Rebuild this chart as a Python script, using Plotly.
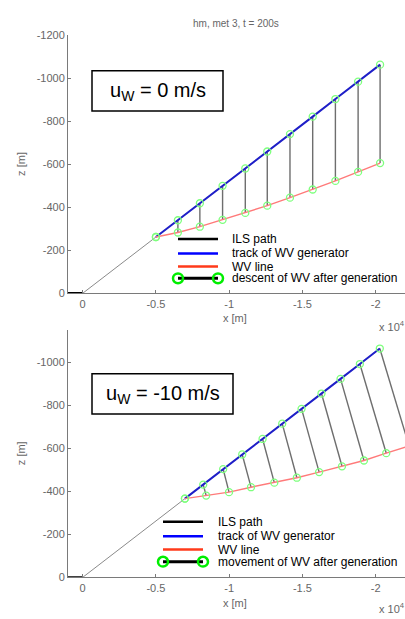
import plotly.graph_objects as go

W, H = 405, 619
FONT = "Liberation Sans, Arial, sans-serif"

# ILS glide path: short ground segment, then the 3 deg slope
ils_x = [1000, 0, -20300]
ils_z = [0, 0, -1064]

# u_W = 0 m/s : generator positions every 20 s and the vortex positions at t = 200 s
top_gen_x = [-5000, -6500, -8000, -9550, -11100, -12600, -14150, -15700, -17250, -18800, -20300]
top_gen_z = [-262, -340, -419, -500, -581, -660, -741, -822, -904, -985, -1064]
top_wv_x = [-5000, -6500, -8000, -9550, -11100, -12600, -14150, -15700, -17250, -18800, -20300]
top_wv_z = [-262, -283, -310, -342, -374, -408, -445, -483, -523, -565, -606]

# u_W = -10 m/s : head wind, vortices drift while descending
bot_gen_x = [-6980, -8230, -9590, -10890, -12280, -13620, -14940, -16300, -17600, -18920, -20280]
bot_gen_z = [-366, -431, -503, -571, -643, -714, -783, -854, -922, -991, -1063]
bot_wv_x = [-6980, -8430, -9990, -11490, -13080, -14620, -16140, -17700, -19200, -20720, -22280]
bot_wv_z = [-366, -380, -396, -419, -440, -463, -489, -516, -543, -577, -610]

x_ticks = [0, -5000, -10000, -15000, -20000]
x_ticktext = ["0", "-0.5", "-1", "-1.5", "-2"]
top_z_ticks = [0, -200, -400, -600, -800, -1000, -1200]
bot_z_ticks = [0, -200, -400, -600, -800, -1000]

legend_top = ["ILS path", "track of WV generator", "WV line", "descent of WV after generation"]
legend_bot = ["ILS path", "track of WV generator", "WV line", "movement of WV after generation"]


def px(x):
    return x / W


def py(y):
    return 1 - y / H


fig = go.Figure()


def add_panel(xa, ya, gx, gz, wx, wz):
    # ILS slope (thin) and ground segment
    fig.add_trace(go.Scatter(x=ils_x[1:], y=ils_z[1:], mode="lines",
                             line=dict(color="#8a8a8a", width=1), xaxis=xa, yaxis=ya))
    fig.add_trace(go.Scatter(x=ils_x[:2], y=ils_z[:2], mode="lines",
                             line=dict(color="black", width=2.5), xaxis=xa, yaxis=ya))
    # connectors: each generation point to its vortex
    cx, cz = [], []
    for a, b, c, d in zip(gx, gz, wx, wz):
        cx += [a, c, None]
        cz += [b, d, None]
    fig.add_trace(go.Scatter(x=cx, y=cz, mode="lines",
                             line=dict(color="#6e6e6e", width=1.4), xaxis=xa, yaxis=ya))
    fig.add_trace(go.Scatter(x=gx, y=gz, mode="lines",
                             line=dict(color="#1f1fc8", width=2), xaxis=xa, yaxis=ya))
    fig.add_trace(go.Scatter(x=wx, y=wz, mode="lines",
                             line=dict(color="#ff7a7a", width=1.4), xaxis=xa, yaxis=ya))
    fig.add_trace(go.Scatter(x=gx + wx, y=gz + wz, mode="markers",
                             marker=dict(symbol="circle-open", size=7, color="#7dff7d",
                                         line=dict(width=1.3)),
                             xaxis=xa, yaxis=ya))


add_panel("x", "y", top_gen_x, top_gen_z, top_wv_x, top_wv_z)
add_panel("x2", "y2", bot_gen_x, bot_gen_z, bot_wv_x, bot_wv_z)

shapes = []
annotations = []


def legend(rows_y, x0, x1, xt, labels):
    colors = ["black", "#0000ff", "#ff3a1a"]
    for y, c, t in zip(rows_y[:3], colors, labels[:3]):
        shapes.append(dict(type="line", xref="paper", yref="paper", x0=px(x0), x1=px(x1),
                           y0=py(y), y1=py(y), line=dict(color=c, width=2.5)))
    y = rows_y[3]
    shapes.append(dict(type="line", xref="paper", yref="paper", x0=px(x0), x1=px(x1),
                       y0=py(y), y1=py(y), line=dict(color="black", width=3)))
    r = 5
    for xc in (x0, x1):
        shapes.append(dict(type="circle", xref="paper", yref="paper",
                           x0=px(xc - r), x1=px(xc + r), y0=py(y + r), y1=py(y - r),
                           line=dict(color="#00ee00", width=2.5)))
    for y, t in zip(rows_y, labels):
        annotations.append(dict(text=t, xref="paper", yref="paper", x=px(xt), y=py(y),
                                xanchor="left", yanchor="middle", showarrow=False,
                                font=dict(family=FONT, size=12, color="black")))


legend([237.5, 252.3, 265.7, 277.7], 178, 218, 230, legend_top)
legend([526, 540.7, 554.3, 566.7], 163, 203, 216, legend_bot)


def wind_box(x0, x1, y0, y1, label):
    shapes.append(dict(type="rect", xref="paper", yref="paper", x0=px(x0), x1=px(x1),
                       y0=py(y1), y1=py(y0), line=dict(color="black", width=1.5),
                       fillcolor="white"))
    annotations.append(dict(text=label, xref="paper", yref="paper",
                            x=px((x0 + x1) / 2), y=py((y0 + y1) / 2 + 1),
                            xanchor="center", yanchor="middle", showarrow=False,
                            font=dict(family=FONT, size=20, color="black")))


wind_box(92, 223, 66, 107, "u<sub>W</sub> = 0 m/s")
wind_box(92, 233, 375, 416, "u<sub>W</sub> = -10 m/s")

gray = "#666666"
for ylab, zlab, pw in [(318, 161, 326), (609, 456, 614)]:
    annotations.append(dict(text="x [m]", xref="paper", yref="paper", x=px(235), y=py(ylab),
                            xanchor="center", yanchor="middle", showarrow=False,
                            font=dict(family=FONT, size=11, color=gray)))
    annotations.append(dict(text="z [m]", xref="paper", yref="paper", x=px(21), y=py(zlab),
                            xanchor="center", yanchor="middle", showarrow=False, textangle=-90,
                            font=dict(family=FONT, size=11, color=gray)))
    annotations.append(dict(text="x 10<sup>4</sup>", xref="paper", yref="paper", x=px(377),
                            y=py(pw), xanchor="left", yanchor="middle", showarrow=False,
                            font=dict(family=FONT, size=11, color=gray)))

annotations.append(dict(text="hm, met 3, t = 200s", xref="paper", yref="paper",
                        x=px(236), y=py(18), xanchor="center", yanchor="middle",
                        showarrow=False, font=dict(family=FONT, size=10, color=gray)))

axis_common = dict(showline=True, linecolor="#7a7a7a", linewidth=1, ticks="inside",
                   ticklen=3, tickcolor="#7a7a7a", showgrid=False, zeroline=False,
                   tickfont=dict(family=FONT, size=11, color=gray))

fig.update_layout(
    width=W, height=H,
    margin=dict(l=0, r=0, t=0, b=0),
    paper_bgcolor="white", plot_bgcolor="white",
    showlegend=False,
    shapes=shapes, annotations=annotations,
    xaxis=dict(domain=[px(68), 1], range=[1000, -22000], anchor="y",
               tickvals=x_ticks, ticktext=x_ticktext, **axis_common),
    yaxis=dict(domain=[py(293), py(30)], range=[0, -1200], anchor="x",
               tickvals=top_z_ticks, ticktext=[str(v) for v in top_z_ticks], **axis_common),
    xaxis2=dict(domain=[px(68), 1], range=[1000, -22000], anchor="y2",
                tickvals=x_ticks, ticktext=x_ticktext, **axis_common),
    yaxis2=dict(domain=[py(582.7), py(330)], range=[0, -1151], anchor="x2",
                tickvals=bot_z_ticks, ticktext=[str(v) for v in bot_z_ticks], **axis_common),
)

fig.write_html("out.html")
